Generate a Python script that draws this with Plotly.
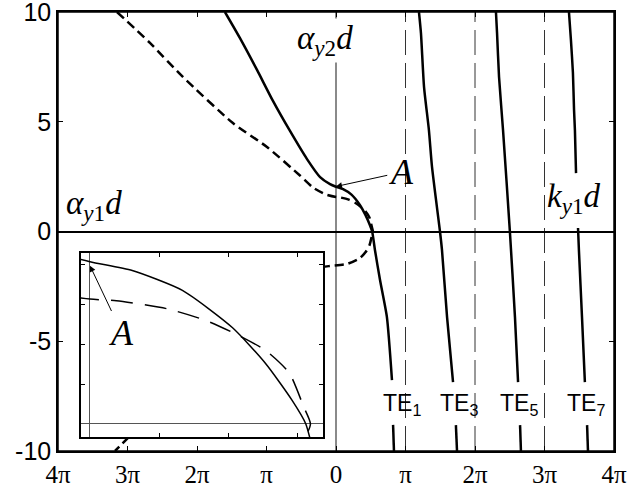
import numpy as np
import plotly.graph_objects as go

PI = np.pi

# TE1 branch (solid) - passes through point A at x = 0
te1_x = [-5.02, -4.34, -3.57, -2.85, -2.08, -1.31, -0.72, -0.27, 0.0, 0.32, 0.70, 1.08, 1.33, 1.53, 1.635, 1.76, 1.99, 2.30, 2.53, None, 2.58, 2.62]
te1_y = [10, 8.81, 7.36, 5.95, 4.58, 3.30, 2.48, 2.16, 2.04, 1.93, 1.68, 1.21, 0.76, 0.30, 0.0, -0.84, -2.21, -3.89, -6.77, None, -8.81, -10]

# higher modes (solid)
te3_x = [3.75, 3.84, 3.98, 4.20, 4.34, 4.70, 4.79, 5.02, 5.29, None, 5.42, 5.47]
te3_y = [10, 9.04, 6.58, 4.62, 2.94, 0.0, -0.84, -3.90, -6.86, None, -8.82, -10]
te5_x = [7.23, 7.28, 7.37, 7.55, 7.86, 8.09, 8.23, None, 8.32, 8.36]
te5_y = [10, 9.04, 7.04, 4.62, 0.0, -3.90, -6.86, None, -8.82, -10]
te7_x = [10.53, 10.62, 10.71, 10.76, 10.80, 10.85, None, 10.94, 10.98, 11.12, 11.25, None, 11.35, 11.39]
te7_y = [10, 8.72, 7.22, 5.54, 4.62, 2.66, None, 0.16, -0.84, -3.90, -6.86, None, -8.82, -10]

# dashed curve (folds back at y = 0)
dash_x = [-9.90, -8.41, -6.92, -4.66, -3.12, -1.63, -1.04, -0.45, 0.0, 0.20, 0.58, 0.88, 1.13, 1.33, 1.51, 1.62, 1.67,
          1.62, 1.51, 1.33, 1.08, 0.50, -0.27, -0.59, -1.04, -1.63, -3.12, -4.66, -6.92, -8.41, -9.40, -9.99]
dash_y = [10, 8.59, 7.04, 4.94, 3.85, 2.55, 2.0, 1.68, 1.57, 1.55, 1.45, 1.30, 1.11, 0.925, 0.64, 0.21, 0.0,
          -0.21, -0.64, -0.95, -1.21, -1.48, -1.57, -1.62, -1.85, -2.5, -3.85, -4.94, -7.04, -8.41, -9.40, -10]

# axis ticks
x_ticks = [k * PI for k in range(-4, 5)]
x_ticktext = ["4π", "3π", "2π", "π", "0", "π", "2π", "3π", "4π"]
y_ticks = [-10, -5, 0, 5, 10]
y_ticktext = ["-10", "-5", "0", "5", "10"]
cutoffs = [PI, 2 * PI, 3 * PI]
inset_xticks = [PI / 6, PI / 3, PI / 2]
inset_yticks = [0.5, 1.0, 1.5, 2.0]

fig = go.Figure()

solid = dict(color="black", width=2.5, shape="spline", smoothing=0.6)
for xs, ys in [(te1_x, te1_y), (te3_x, te3_y), (te5_x, te5_y), (te7_x, te7_y)]:
    fig.add_trace(go.Scatter(x=xs, y=ys, mode="lines", line=solid, showlegend=False))
fig.add_trace(go.Scatter(x=dash_x, y=dash_y, mode="lines", showlegend=False,
                         line=dict(color="black", width=2.5, dash="9px,5px", shape="spline", smoothing=0.6)))

# inset: zoom on the region around A
fig.add_trace(go.Scatter(x=te1_x, y=te1_y, mode="lines", xaxis="x2", yaxis="y2", showlegend=False,
                         line=dict(color="black", width=1.5, shape="spline", smoothing=0.6)))
fig.add_trace(go.Scatter(x=dash_x, y=dash_y, mode="lines", xaxis="x2", yaxis="y2", showlegend=False,
                         line=dict(color="black", width=1.5, dash="22px,12px", shape="spline", smoothing=0.6)))

for c in cutoffs:
    fig.add_shape(type="line", x0=c, x1=c, y0=-10, y1=10, xref="x", yref="y", layer="below",
                  line=dict(color="#333", width=1, dash="25px,8px"))
# frame of the main plot
fig.add_shape(type="rect", x0=0, x1=1, y0=0, y1=1, xref="x domain", yref="y domain",
              line=dict(color="black", width=1.5))

serif = "Liberation Serif"
sans = "Liberation Sans"

ann = []
ann.append(dict(x=-12.3, y=1.2, xref="x", yref="y", xanchor="left", yanchor="middle", showarrow=False,
                text="<i>α</i><sub><i>y</i>1</sub><i>d</i>", font=dict(family=serif, size=33, color="black")))
ann.append(dict(x=-0.5, y=8.7, xref="x", yref="y", xanchor="center", yanchor="middle", showarrow=False,
                bgcolor="white", text="<i>α</i><sub><i>y</i>2</sub><i>d</i>", font=dict(family=serif, size=33, color="black")))
ann.append(dict(x=10.75, y=1.5, xref="x", yref="y", xanchor="center", yanchor="middle", showarrow=False,
                text="<i>k</i><sub><i>y</i>1</sub><i>d</i>", font=dict(family=serif, size=33, color="black")))
ann.append(dict(x=0.0, y=2.05, xref="x", yref="y", ax=2.95, ay=2.7, axref="x", ayref="y",
                text="<i>A</i>", font=dict(family=serif, size=36, color="black"),
                showarrow=True, arrowhead=2, arrowsize=1.2, arrowwidth=1, arrowcolor="black"))
ann.append(dict(x=0.0, y=1.99, xref="x2", yref="y2", ax=0.24, ay=1.15, axref="x2", ayref="y2",
                text="<i>A</i>", font=dict(family=serif, size=36, color="black"),
                showarrow=True, arrowhead=2, arrowsize=1.2, arrowwidth=1, arrowcolor="black"))
for lbl, xc in [("1", 2.98), ("3", 5.56), ("5", 8.27), ("7", 11.3)]:
    ann.append(dict(x=xc, y=-7.9, xref="x", yref="y", xanchor="center", yanchor="middle", showarrow=False,
                    text="TE<sub>" + lbl + "</sub>", font=dict(family=sans, size=23, color="black")))

axis_common = dict(showline=True, linecolor="black", linewidth=1.5, mirror="allticks", ticks="inside",
                   tickcolor="black", showgrid=False, automargin=False)

fig.update_layout(
    width=635, height=498,
    margin=dict(l=58, r=21, t=12, b=47),
    paper_bgcolor="white", plot_bgcolor="white",
    annotations=ann,
    xaxis=dict(range=[-4 * PI, 4 * PI], tickvals=x_ticks, ticktext=x_ticktext, ticklen=5,
               tickfont=dict(family=serif, size=25, color="black"), ticklabeloverflow="allow",
               zeroline=True, zerolinecolor="#8a8a8a", zerolinewidth=1.5, **axis_common),
    yaxis=dict(range=[-10, 10], tickvals=y_ticks, ticktext=y_ticktext, ticklen=5,
               tickfont=dict(family=sans, size=25, color="black"), ticklabeloverflow="allow",
               zeroline=True, zerolinecolor="black", zerolinewidth=2, **axis_common),
    xaxis2=dict(domain=[0.0414, 0.4766], anchor="y2", range=[-0.068, 1.765], tickvals=inset_xticks,
                showticklabels=False, ticklen=4, zeroline=True, zerolinecolor="#555", zerolinewidth=1,
                **axis_common),
    yaxis2=dict(domain=[0.032, 0.451], anchor="x2", range=[-0.164, 2.15], tickvals=inset_yticks,
                showticklabels=False, ticklen=4, zeroline=True, zerolinecolor="#555", zerolinewidth=1,
                **axis_common),
)

# drop the default 8px page margin so the figure sits at the window corner
fig.write_html("out.html", config={"displayModeBar": False},
               post_script="document.body.style.margin='0px';")
